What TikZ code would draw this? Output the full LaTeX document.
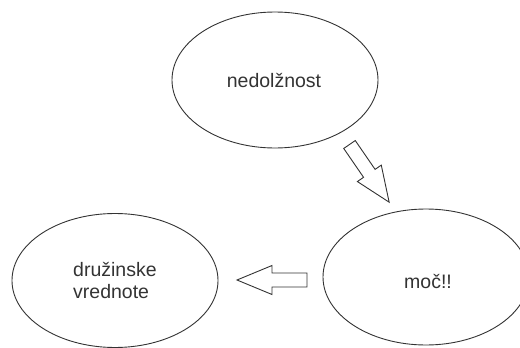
\documentclass[tikz,border=0pt]{standalone}
\usepackage{fontspec}
\setmainfont{Liberation Sans}
\usetikzlibrary{shapes.geometric}
\definecolor{ink}{HTML}{333333}
\begin{document}
\begin{tikzpicture}[x=1pt,y=-1pt,
  bubble/.style={draw=ink,line width=0.9pt,shape=ellipse,inner sep=0pt,minimum width=206pt,minimum height=136pt},
  label/.style={text=ink,font=\fontsize{19.5}{22}\selectfont,inner sep=0pt},
  blockarrow/.style={draw=ink,line width=0.9pt,fill=white,line join=miter}]
\useasboundingbox (0,0) rectangle (520,348);
\clip (0,0) rectangle (520,348);
% ellipses
\node[bubble] (top) at (275,80) {};
\node[bubble] (right) at (426,277) {};
\node[bubble,minimum height=134pt] (left) at (115,280.5) {};
% labels
\node[label,anchor=base] (t1) at (274,87) {nedolžnost};
\node[label,anchor=base] (t2) at (428,288) {moč!!};
\node[label,align=left,anchor=base west] (t3) at (73,298) {družinske\\vrednote};
% block arrows
\begin{scope}[shift={(349.5,144.5)},rotate=-55.5]
  \draw[blockarrow] (0,7) -- (35,7) -- (35,14.5) -- (70,0) -- (35,-14.5) -- (35,-7) -- (0,-7) -- cycle;
\end{scope}
\begin{scope}[shift={(307,280)},rotate=180]
  \draw[blockarrow] (0,7) -- (35,7) -- (35,14.5) -- (70,0) -- (35,-14.5) -- (35,-7) -- (0,-7) -- cycle;
\end{scope}
\end{tikzpicture}
\end{document}
